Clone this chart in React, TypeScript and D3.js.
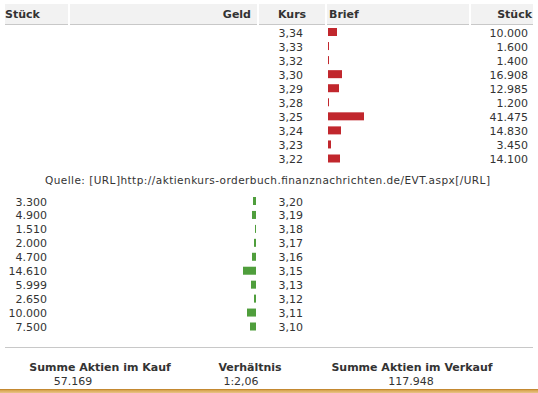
import React from "react";
import * as d3 from "d3";

const askPrices = ["3,34", "3,33", "3,32", "3,30", "3,29", "3,28", "3,25", "3,24", "3,23", "3,22"];
const askVolumes = [10000, 1600, 1400, 16908, 12985, 1200, 41475, 14830, 3450, 14100];
const bidPrices = ["3,20", "3,19", "3,18", "3,17", "3,16", "3,15", "3,13", "3,12", "3,11", "3,10"];
const bidVolumes = [3300, 4900, 1510, 2000, 4700, 14610, 5999, 2650, 10000, 7500];
const headers = ["Stück", "Geld", "Kurs", "Brief", "Stück"];
const source = "Quelle: [URL]http://aktienkurs-orderbuch.finanznachrichten.de/EVT.aspx[/URL]";
const summaryLabels = ["Summe Aktien im Kauf", "Verhältnis", "Summe Aktien im Verkauf"];
const summaryValues = ["57.169", "1:2,06", "117.948"];

const fmt = (v: number) => d3.format(",")(v).replace(/,/g, ".");

export default function App() {
  const W = 538, H = 393;
  const font = "'DejaVu Sans', Verdana, sans-serif";
  const txt = "#333";
  const w = d3.scaleLinear().domain([0, 42000]).range([0, 36]);
  const yTop = d3.scalePoint<number>().domain(d3.range(10)).range([32.5, 159]);
  const yBot = d3.scalePoint<number>().domain(d3.range(10)).range([201.5, 327]);
  const barH = 8;
  const bw = (v: number) => Math.max(1, Math.round(w(v)));

  return (
    <div style={{ position: "fixed", left: 0, top: 0 }}>
      <svg width={W} height={H} style={{ display: "block", background: "#fff" }} fontFamily={font}>
        <defs>
          <linearGradient id="gold" x1="0" y1="0" x2="0" y2="1">
            <stop offset="0" stopColor="#b8791f" />
            <stop offset="0.35" stopColor="#d9a652" />
            <stop offset="1" stopColor="#e8c488" />
          </linearGradient>
        </defs>
        {/* header */}
        <rect x={5} y={4} width={528} height={20} fill="#f2f2f2" />
        <line x1={5} x2={533} y1={24.5} y2={24.5} stroke="#c8c8c8" />
        {[68, 257, 325, 469].map((x) => (
          <rect key={x} x={x} y={3} width={2} height={23} fill="#fff" />
        ))}
        <g fontSize={11} fontWeight="bold" fill={txt}>
          <text x={5} y={18}>{headers[0]}</text>
          <text x={251} y={18} textAnchor="end">{headers[1]}</text>
          <text x={278} y={18}>{headers[2]}</text>
          <text x={329} y={18}>{headers[3]}</text>
          <text x={532} y={18} textAnchor="end">{headers[4]}</text>
        </g>
        {/* asks */}
        <g fontSize={11} fill={txt}>
          {askPrices.map((p, i) => {
            const cy = yTop(i)!;
            return (
              <g key={p}>
                <text x={303} y={cy + 4} textAnchor="end">{p}</text>
                <rect x={328} y={cy - barH / 2 - 0.5} width={bw(askVolumes[i])} height={barH} fill="#c1272d" />
                <text x={528} y={cy + 4} textAnchor="end">{fmt(askVolumes[i])}</text>
              </g>
            );
          })}
        </g>
        <text x={45} y={184} fontSize={10.5} fill={txt} textLength={445} lengthAdjust="spacing">{source}</text>
        {/* bids */}
        <g fontSize={11} fill={txt}>
          {bidPrices.map((p, i) => {
            const cy = yBot(i)!;
            const bwi = bw(bidVolumes[i]);
            return (
              <g key={p}>
                <text x={47} y={cy + 4} textAnchor="end">{fmt(bidVolumes[i])}</text>
                <rect x={256 - bwi} y={cy - barH / 2 - 0.5} width={bwi} height={barH} fill="#4f9e3c" />
                <text x={303} y={cy + 4} textAnchor="end">{p}</text>
              </g>
            );
          })}
        </g>
        {/* summary */}
        <line x1={5} x2={533} y1={347.5} y2={347.5} stroke="#c8c8c8" />
        <g fontSize={11} fontWeight="bold" fill={txt} textAnchor="middle">
          <text x={100} y={371}>{summaryLabels[0]}</text>
          <text x={250} y={371}>{summaryLabels[1]}</text>
          <text x={412} y={371}>{summaryLabels[2]}</text>
        </g>
        <g fontSize={11} fill={txt} textAnchor="middle">
          <text x={73} y={385}>{summaryValues[0]}</text>
          <text x={241} y={385}>{summaryValues[1]}</text>
          <text x={411} y={385}>{summaryValues[2]}</text>
        </g>
        <rect x={0} y={389} width={W} height={4} fill="url(#gold)" />
      </svg>
    </div>
  );
}
